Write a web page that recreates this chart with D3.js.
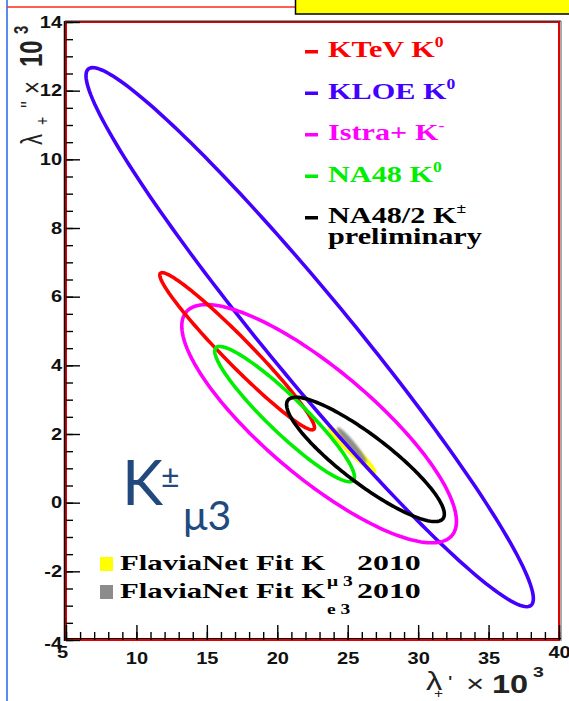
<!DOCTYPE html>
<html>
<head>
<meta charset="utf-8">
<script src="https://cdn.jsdelivr.net/npm/d3@7"></script>
<style>
  body { margin: 0; background: #fff; }
  svg { display: block; }
</style>
</head>
<body>
<div id="chart"></div>
<script>
// experiments in the legend (name, kaon charge)
var experiments = ["KTeV", "KLOE", "Istra+", "NA48", "NA48/2"];
var charges = ["0", "0", "-", "0", "\u00b1"];
var colors = ["#ff0000", "#4400ff", "#ff00ff", "#00ee00", "#000000"];

// 1 sigma contours, lambda+' and lambda+'' (x 10^3)
var centerX = [17.15, 22.3, 22.97, 20.52, 26.26];
var centerY = [4.41, 4.82, 2.30, 2.58, 1.26];
var sigmaX = [5.49, 15.88, 9.75, 4.96, 5.60];
var sigmaY = [2.29, 7.85, 3.47, 1.97, 1.81];
var rho = [-0.97, -0.97, -0.82, -0.93, -0.88];

// FlaviaNet fits 2010 (Kmu3 yellow, Ke3 grey)
var fitLabels = ["\u03bc 3", "e 3"];
var fitColors = ["#ffff00", "#8c8c8c"];
var fitX = [25.3, 25.3];
var fitY = [1.55, 1.68];
var fitSX = [1.75, 1.05];
var fitSY = [0.70, 0.52];
var fitRho = [-0.95, -0.95];

// axes
var xTicks = [5, 10, 15, 20, 25, 30, 35, 40];
var yTicks = [-4, -2, 0, 2, 4, 6, 8, 10, 12, 14];

var W = 569, H = 701;
var svg = d3.select("#chart").append("svg").attr("width", W).attr("height", H);

var x = d3.scaleLinear().domain([5, 40]).range([66, 559]);
var y = d3.scaleLinear().domain([-4, 14]).range([640, 22]);

// slide decorations
svg.append("line").attr("x1", 7).attr("x2", 7).attr("y1", 0).attr("y2", H)
  .attr("stroke", "#5b8def").attr("stroke-width", 2);
svg.append("line").attr("x1", 7).attr("x2", 295).attr("y1", 7).attr("y2", 7)
  .attr("stroke", "#ff2a1a").attr("stroke-width", 1.5);
svg.append("rect").attr("x", 295.5).attr("y", -2).attr("width", 290).attr("height", 16)
  .attr("fill", "#ffff00").attr("stroke", "#000").attr("stroke-width", 1.5);

// stretched text helper (the picture is wider than tall)
function stext(parent, px, py, k) {
  return parent.append("g")
    .attr("transform", "translate(" + px + "," + py + ") scale(" + k + ",1)")
    .append("text");
}
function stretch(sel, k) {
  sel.each(function() {
    var w = this.getComputedTextLength();
    d3.select(this).attr("textLength", w * k).attr("lengthAdjust", "spacingAndGlyphs");
  });
}

svg.append("clipPath").attr("id", "plotclip").append("rect")
  .attr("x", 66).attr("y", 22).attr("width", 493).attr("height", 618);

var contour = function(cx, cy, sx, sy, r) {
  var s = Math.sqrt(1 - r * r);
  return d3.range(0, 360, 2).map(function(deg) {
    var t = deg * Math.PI / 180;
    return [cx + sx * Math.cos(t), cy + sy * (r * Math.cos(t) + s * Math.sin(t))];
  });
};
var line = d3.line()
  .x(function(d) { return x(d[0]); })
  .y(function(d) { return y(d[1]); })
  .curve(d3.curveLinearClosed);

var plot = svg.append("g").attr("clip-path", "url(#plotclip)");

var blur = svg.append("defs").append("filter").attr("id", "soft");
blur.append("feGaussianBlur").attr("stdDeviation", 1.1);

fitLabels.forEach(function(d, i) {
  plot.append("path")
    .attr("d", line(contour(fitX[i], fitY[i], fitSX[i], fitSY[i], fitRho[i])))
    .attr("fill", fitColors[i])
    .attr("filter", i == 1 ? "url(#soft)" : null);
});

var order = [1, 2, 0, 3, 4];
order.forEach(function(i) {
  plot.append("path")
    .attr("d", line(contour(centerX[i], centerY[i], sigmaX[i], sigmaY[i], rho[i])))
    .attr("fill", "none")
    .attr("stroke", colors[i])
    .attr("stroke-width", 3.6);
});

// frame
svg.append("rect").attr("x", 66).attr("y", 22).attr("width", 493).attr("height", 618)
  .attr("fill", "none").attr("stroke", "#e00000").attr("stroke-width", 2);
svg.append("line").attr("x1", 65).attr("x2", 561).attr("y1", 21).attr("y2", 21)
  .attr("stroke", "#333").attr("stroke-width", 1.2);
svg.append("line").attr("x1", 561).attr("x2", 561).attr("y1", 21).attr("y2", 641)
  .attr("stroke", "#555").attr("stroke-width", 1);
svg.append("line").attr("x1", 64.5).attr("x2", 64.5).attr("y1", 21).attr("y2", 641)
  .attr("stroke", "#000").attr("stroke-width", 1.5);
svg.append("line").attr("x1", 64).attr("x2", 561).attr("y1", 638.5).attr("y2", 638.5)
  .attr("stroke", "#000").attr("stroke-width", 1.2);

// axes
var axisFont = "'Liberation Sans', Arial, sans-serif";
var plain = function(d) { return String(d); };

var yMinor = svg.append("g").attr("transform", "translate(66,0)")
  .call(d3.axisLeft(y).tickValues(d3.range(-4, 14.01, 0.5)).tickSize(-7).tickFormat(""));
var yMajor = svg.append("g").attr("transform", "translate(66,0)")
  .call(d3.axisLeft(y).tickValues(yTicks).tickSize(-14).tickPadding(4).tickFormat(plain));
var xMinor = svg.append("g").attr("transform", "translate(0,640)")
  .call(d3.axisBottom(x).tickValues(d3.range(5, 40.01, 1)).tickSize(-8).tickFormat(""));
var xMajor = svg.append("g").attr("transform", "translate(0,640)")
  .call(d3.axisBottom(x).tickValues(xTicks).tickSize(-15).tickPadding(13).tickFormat(plain));

[yMinor, yMajor, xMinor, xMajor].forEach(function(a) {
  a.select(".domain").remove();
  a.selectAll("line").attr("stroke", "#000").attr("stroke-width", 1.4);
  a.selectAll("text").attr("font-family", axisFont).attr("font-weight", "bold")
    .attr("font-size", 16).attr("fill", "#111");
});
xMajor.selectAll(".tick text").filter(function(d) { return d == 5 || d == 40; })
  .attr("y", 7);
xMajor.selectAll(".tick text").filter(function(d) { return d == 5; }).attr("x", -4);
yMajor.selectAll(".tick text").filter(function(d) { return d == -4; }).attr("y", 3);
stretch(yMajor.selectAll("text"), 1.25);
stretch(xMajor.selectAll("text"), 1.25);

// y axis title
var yt = svg.append("g").attr("transform", "translate(42,145) rotate(-90) scale(1,1.3)")
  .attr("font-family", axisFont).attr("fill", "#222");
yt.append("text").attr("x", 0).attr("font-size", 22).text("\u03bb");
yt.append("text").attr("x", 20).attr("y", 5).attr("font-size", 14).text("+");
yt.append("text").attr("x", 37).attr("y", -3).attr("font-size", 18).text("''");
yt.append("text").attr("x", 51).attr("font-size", 22).text("\u00d7");
yt.append("text").attr("x", 78).attr("font-size", 24).attr("font-weight", "bold").text("10");
yt.append("text").attr("x", 111).attr("y", -11).attr("font-size", 15).attr("font-weight", "bold").text("3");

// x axis title
var xt = svg.append("g").attr("font-family", axisFont).attr("fill", "#222");
stext(xt, 426, 690, 1.3).attr("font-size", 25).text("\u03bb");
stext(xt, 434, 698, 1.3).attr("font-size", 12).text("+");
stext(xt, 448, 689, 1.3).attr("font-size", 18).text("'");
stext(xt, 466, 692, 1.3).attr("font-size", 24).text("\u00d7");
stext(xt, 492, 693, 1.3).attr("font-size", 25).attr("font-weight", "bold").text("10");
stext(xt, 533, 677, 1.3).attr("font-size", 15).attr("font-weight", "bold").text("3");

// legend, top right
var serif = "'Liberation Serif', 'Times New Roman', serif";
var legend = svg.append("g").attr("font-family", serif).attr("font-weight", "bold");
experiments.forEach(function(name, i) {
  var by = 57 + i * 41.5;
  legend.append("rect").attr("x", 305).attr("y", by - 7).attr("width", 13).attr("height", 3.5)
    .attr("fill", colors[i]);
  var t = stext(legend, 328, by, 1.26).attr("font-size", 24).attr("fill", colors[i]);
  t.append("tspan").text(name + " K");
  t.append("tspan").attr("dy", -10).attr("font-size", 14).text(charges[i]);
});
stext(legend, 328, 57 + 4 * 41.5 + 21, 1.26).attr("font-size", 24).attr("fill", "#000")
  .text("preliminary");

// legend, FlaviaNet fits
var fl = svg.append("g").attr("font-family", serif).attr("font-weight", "bold").attr("fill", "#000");
fitLabels.forEach(function(lab, i) {
  var by = 570 + i * 28;
  fl.append("rect").attr("x", 100).attr("y", by - 13).attr("width", 13).attr("height", 14)
    .attr("fill", fitColors[i]);
  stext(fl, 120, by, 1.4).attr("font-size", 22).text("FlaviaNet Fit K");
  stext(fl, 327, by + 16, 1.3).attr("font-size", 15).text(lab);
  stext(fl, 357, by, 1.45).attr("font-size", 22).text("2010");
});

// K± mu3 annotation
var ann = svg.append("g").attr("font-family", "Lato, 'Open Sans', sans-serif").attr("fill", "#21497e");
ann.append("text").attr("x", 122).attr("y", 505).attr("font-size", 62).text("K");
ann.append("text").attr("x", 161).attr("y", 488).attr("font-size", 32).text("\u00b1");
ann.append("text").attr("x", 183).attr("y", 530).attr("font-size", 41).text("\u03bc3");
</script>
</body>
</html>
